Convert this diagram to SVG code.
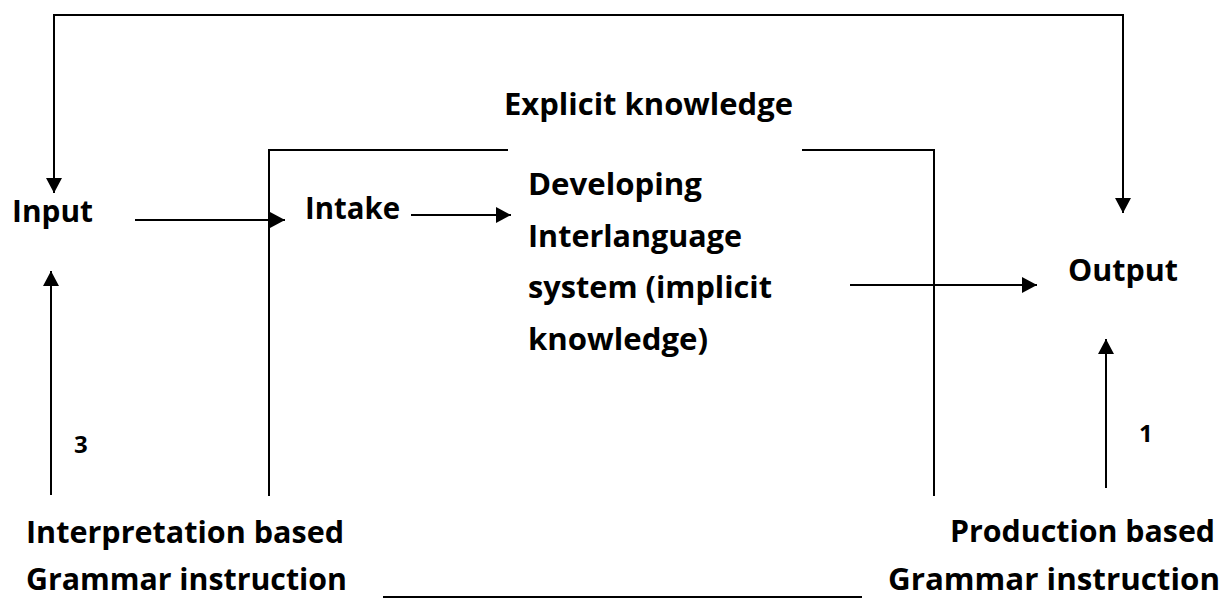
<svg xmlns="http://www.w3.org/2000/svg" width="1226" height="599" viewBox="0 0 1226 599">
  <style>
    .lbl { font-family: "Open Sans", "Liberation Sans", sans-serif; font-weight: 700; font-size: 30px; fill: #000; }
    .num { font-family: "Open Sans", "Liberation Sans", sans-serif; font-weight: 700; font-size: 24px; fill: #000; }
    .ln { fill: none; stroke: #000; stroke-width: 2; }
    .arr { fill: none; stroke: #000; stroke-width: 2; marker-end: url(#head); }
  </style>
  <defs>
    <marker id="head" viewBox="0 0 15 16" refX="15" refY="8" markerWidth="15" markerHeight="16" markerUnits="userSpaceOnUse" orient="auto">
      <path d="M0,0 L15,8 L0,16 z" fill="#000"/>
    </marker>
  </defs>
  <rect width="1226" height="599" fill="#fff"/>

  <g id="connectors">
    <!-- feedback loop across the top -->
    <path class="ln" d="M54,180 V15 H1123 V200"/>
    <path class="arr" d="M54,170 V193"/>
    <path class="arr" d="M1123,190 V213"/>
    <!-- main flow -->
    <path class="arr" d="M135,220 H285"/>
    <path class="arr" d="M411,215 H511"/>
    <path class="arr" d="M850,285 H1037"/>
    <!-- explicit knowledge frame -->
    <path class="ln" d="M269,496 V150 H508"/>
    <path class="ln" d="M802,150 H934 V496"/>
    <!-- instruction arrows -->
    <path class="arr" d="M51,495 V271"/>
    <path class="arr" d="M1106,488 V339"/>
    <!-- link between the two instruction types -->
    <path class="ln" d="M383,597 H862"/>
  </g>

  <g id="input"><text class="lbl" x="12" y="222" textLength="81" lengthAdjust="spacingAndGlyphs">Input</text></g>
  <g id="intake"><text class="lbl" x="305" y="219" textLength="95" lengthAdjust="spacingAndGlyphs">Intake</text></g>
  <g id="explicit"><text class="lbl" x="504" y="115" textLength="289" lengthAdjust="spacingAndGlyphs">Explicit knowledge</text></g>
  <g id="interlanguage">
    <text class="lbl" x="528" y="195" textLength="174" lengthAdjust="spacingAndGlyphs">Developing</text>
    <text class="lbl" x="528" y="247" textLength="214" lengthAdjust="spacingAndGlyphs">Interlanguage</text>
    <text class="lbl" x="528" y="298" textLength="244" lengthAdjust="spacingAndGlyphs">system (implicit</text>
    <text class="lbl" x="528" y="350" textLength="180" lengthAdjust="spacingAndGlyphs">knowledge)</text>
  </g>
  <g id="output"><text class="lbl" x="1068" y="281" textLength="110" lengthAdjust="spacingAndGlyphs">Output</text></g>
  <g id="label-3"><text class="num" x="74" y="453">3</text></g>
  <g id="label-1"><text class="num" x="1139" y="442">1</text></g>
  <g id="interpretation">
    <text class="lbl" x="26" y="543" textLength="318" lengthAdjust="spacingAndGlyphs">Interpretation based</text>
    <text class="lbl" x="26" y="590" textLength="321" lengthAdjust="spacingAndGlyphs">Grammar instruction</text>
  </g>
  <g id="production">
    <text class="lbl" x="950" y="542" textLength="265" lengthAdjust="spacingAndGlyphs">Production based</text>
    <text class="lbl" x="888" y="590" textLength="332" lengthAdjust="spacingAndGlyphs">Grammar instruction</text>
  </g>
</svg>
